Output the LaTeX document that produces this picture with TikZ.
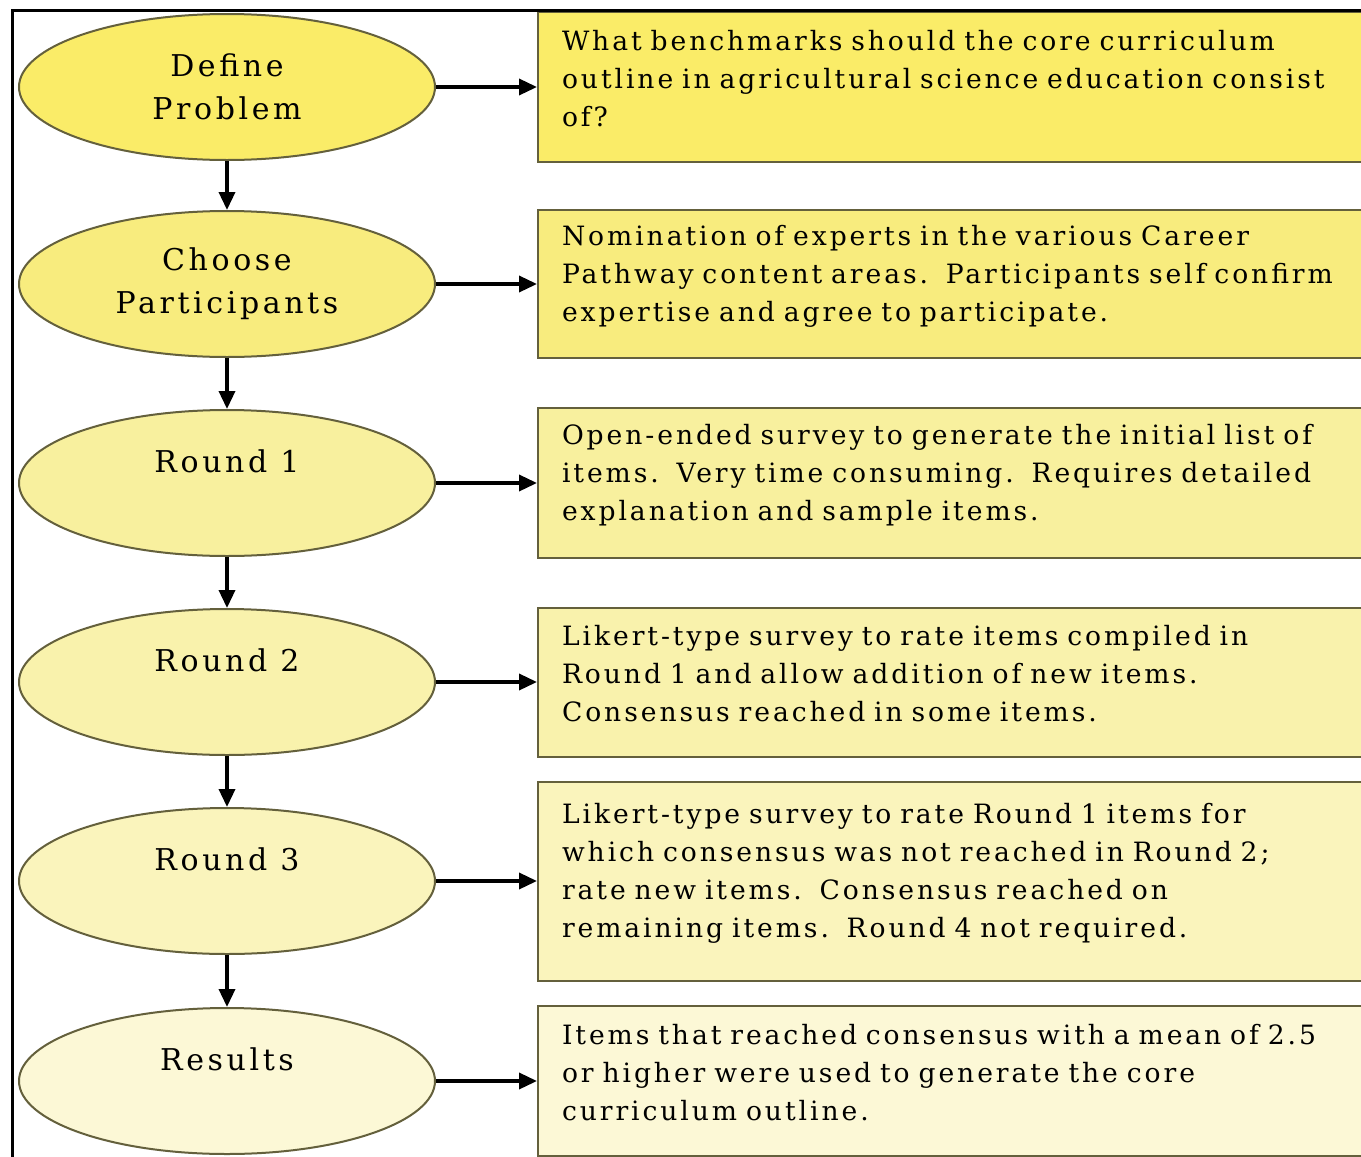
\documentclass[tikz,border=0pt]{standalone}
\usepackage{fontspec}
\setmainfont{DejaVu Serif}
\usetikzlibrary{shapes.geometric,arrows.meta}

\definecolor{fillA}{RGB}{250,236,104}
\definecolor{fillB}{RGB}{248,236,126}
\definecolor{fillC}{RGB}{248,240,158}
\definecolor{fillD}{RGB}{249,242,172}
\definecolor{fillE}{RGB}{250,244,188}
\definecolor{fillF}{RGB}{252,248,214}
\definecolor{edgeol}{RGB}{100,96,60}

\tikzset{
  stage/.style={ellipse, draw=edgeol, line width=1pt, inner sep=0pt,
    minimum width=208pt, minimum height=73pt, align=center,
    font=\addfontfeatures{LetterSpace=12}\fontsize{15}{21.5}\selectfont},
  notebox/.style={rectangle, draw=edgeol, line width=1pt, anchor=west,
    inner xsep=12pt, text width=400pt, align=left,
    execute at end node={\par\vspace*{8pt}},
    font=\addfontfeatures{LetterSpace=11}\fontsize{13.3}{19}\selectfont},
  >={Triangle[length=9pt,width=8pt]}
}

\begin{document}
\begin{tikzpicture}[x=0.5pt, y=-0.5pt]
  \clip (0,0) rectangle (1361,1157);
  \fill[white] (0,0) rectangle (1361,1157);

  % stages
  \node[stage, fill=fillA] (defprob) at (227, 87) {Define\\Problem};
  \node[stage, fill=fillB] (chpart) at (227, 284) {Choose\\Participants};
  \node[stage, fill=fillC] (rnd1) at (227, 483) {Round 1\\\mbox{}};
  \node[stage, fill=fillD] (rnd2) at (227, 682) {Round 2\\\mbox{}};
  \node[stage, fill=fillE] (rnd3) at (227, 881) {Round 3\\\mbox{}};
  \node[stage, fill=fillF] (res) at (227, 1081) {Results\\\mbox{}};

  % notes
  \node[notebox, fill=fillA, minimum height=75pt] (txt1) at (537, 87)
    {What benchmarks should the core curriculum\\
     outline in agricultural science education consist\\
     of?};
  \node[notebox, fill=fillB, minimum height=74pt] (txt2) at (537, 284)
    {Nomination of experts in the various Career\\
     Pathway content areas.\ \ Participants self confirm\\
     expertise and agree to participate.};
  \node[notebox, fill=fillC, minimum height=75pt] (txt3) at (537, 483)
    {Open-ended survey to generate the initial list of\\
     items.\ \ Very time consuming.\ \ Requires detailed\\
     explanation and sample items.};
  \node[notebox, fill=fillD, minimum height=74.5pt] (txt4) at (537, 682)
    {Likert-type survey to rate items compiled in\\
     Round 1 and allow addition of new items.\\
     Consensus reached in some items.};
  \node[notebox, fill=fillE, minimum height=99.5pt] (txt5) at (537, 881)
    {Likert-type survey to rate Round 1 items for\\
     which consensus was not reached in Round 2;\\
     rate new items.\ \ Consensus reached on\\
     remaining items.\ \ Round 4 not required.};
  \node[notebox, fill=fillF, minimum height=75pt] (txt6) at (537, 1081)
    {Items that reached consensus with a mean of 2.5\\
     or higher were used to generate the core\\
     curriculum outline.};

  % arrows
  \foreach \a/\b in {defprob/chpart, chpart/rnd1, rnd1/rnd2, rnd2/rnd3, rnd3/res} {
    \draw[->, line width=1.75pt] (\a) -- (\b);
  }
  \foreach \a/\b in {defprob/txt1, chpart/txt2, rnd1/txt3, rnd2/txt4, rnd3/txt5, res/txt6} {
    \draw[->, line width=1.75pt] (\a.east) -- (\b.west);
  }

  % frame
  \draw[line width=1.5pt] (12,1200) -- (12,10) -- (1400,10);
\end{tikzpicture}
\end{document}
